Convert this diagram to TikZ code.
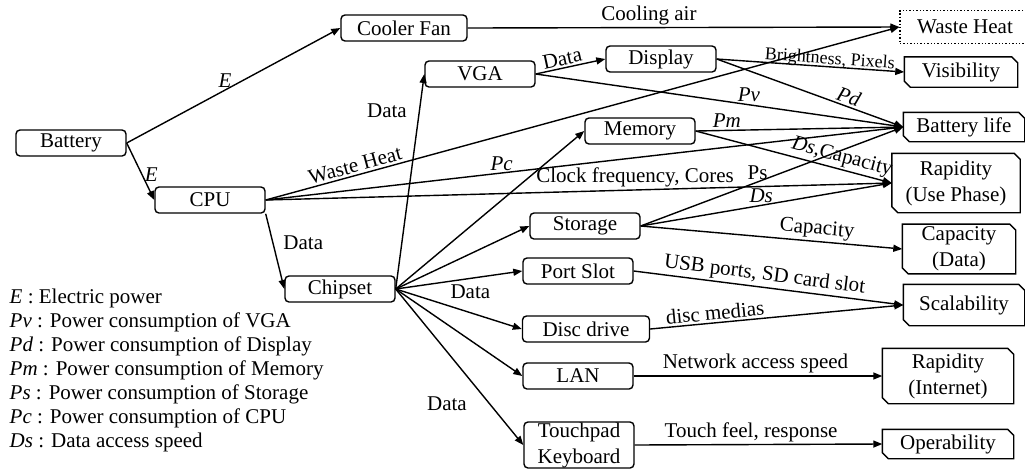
\documentclass[tikz,border=0pt]{standalone}
\usepackage{fontspec}
\setmainfont{Liberation Serif}
\usetikzlibrary{arrows.meta}

\tikzset{
  part/.style={draw, rounded corners=2pt, minimum width=55pt, minimum height=13pt,
    inner sep=1pt, align=center},
  goal/.style={rectangle, inner sep=1pt, align=center},
  lbl/.style={inner sep=1pt},
}

\begin{document}
\begin{tikzpicture}[x=0.5pt, y=-0.5pt, line width=0.7pt,
    font=\fontsize{10.5}{13}\selectfont,
    >={Triangle[length=4.5pt,width=3.5pt]}]
    \useasboundingbox (0,0) rectangle (1025,468);

    % components
    \node[part] (bat) at (71,143) {Battery};
    \node[part, minimum width=63pt] (fan) at (404,28) {Cooler Fan};
    \node[part] (cpu) at (210,200) {CPU};
    \node[part] (vga) at (480,74) {VGA};
    \node[part] (disp) at (661,59) {Display};
    \node[part] (mem) at (640,131) {Memory};
    \node[part] (stor) at (585,226) {Storage};
    \node[part] (chip) at (340,289) {Chipset};
    \node[part] (port) at (578,271) {Port Slot};
    \node[part, minimum width=63.5pt] (disc) at (586,329) {Disc drive};
    \node[part] (lan) at (578,376) {LAN};
    \node[part, minimum height=23pt, inner sep=0pt] (pad) at (579,445) {Touchpad\\Keyboard};

    % functions
    \node[goal, draw, densely dotted, minimum width=65pt, minimum height=16.5pt] (heat) at (965,27) {Waste Heat};
    \node[goal, minimum width=56pt, minimum height=14.5pt] (vis) at (961,72) {Visibility};
    \node[goal, minimum width=60pt, minimum height=14pt] (life) at (964,127) {Battery life};
    \node[goal, minimum width=63.5pt, minimum height=29pt] (rapid) at (956,183) {Rapidity\\(Use Phase)};
    \node[goal, minimum width=56pt, minimum height=24pt] (cap) at (959,249) {Capacity\\(Data)};
    \node[goal, minimum width=60pt, minimum height=20pt] (scal) at (964,305) {Scalability};
    \node[goal, minimum width=65pt, minimum height=27pt] (net) at (948,376) {Rapidity\\(Internet)};
    \node[goal, minimum width=65pt, minimum height=14pt] (oper) at (948,444) {Operability};
    \foreach \n in {vis,life,rapid,cap,scal,net,oper}
      \draw (\n.north west) -- ([xshift=-3pt]\n.north east) -- ([yshift=-3pt]\n.north east)
        -- (\n.south east) -- ([xshift=3pt]\n.south west) -- ([yshift=3pt]\n.south west) -- cycle;

    \node[anchor=west, inner sep=0pt, align=left, font=\fontsize{10.5}{12}\selectfont] (key) at (9,370)
      {\textit{E} : Electric power\\
       \textit{Pv} : Power consumption of VGA\\
       \textit{Pd} : Power consumption of Display\\
       \textit{Pm} : Power consumption of Memory\\
       \textit{Ps} : Power consumption of Storage\\
       \textit{Pc} : Power consumption of CPU\\
       \textit{Ds} : Data access speed};

    % battery and cpu
    \draw[->] (bat.east) -- node[lbl, above, pos=0.46] {\textit{E}} (fan.west);
    \draw[->] (bat.east) -- node[lbl, right, pos=0.56] {\textit{E}} (cpu.west);
    \draw[->] (fan.east) -- node[lbl, above, pos=0.42] {Cooling air} (heat.west);
    \draw[->] (cpu.east) -- node[lbl, above, sloped, pos=0.145] {Waste Heat} (heat.west);
    \draw[->] (cpu.east) -- node[lbl, above, pos=0.37] {\textit{Pc}} (life.west);
    \draw[->] (cpu.east) -- node[lbl, above, pos=0.59] {Clock frequency, Cores} (rapid.west);
    \draw[->] (cpu.south east) -- node[lbl, right=4pt, pos=0.38] {Data} (chip.west);

    % chipset
    \draw[->] (chip.east) -- node[lbl, left=5pt, pos=0.83] {Data} (vga.west);
    \draw[->] (chip.east) -- (mem.west);
    \draw[->] (chip.east) -- (stor.west);
    \draw[->] (chip.east) -- node[lbl, below=2pt, pos=0.59] {Data} (port.west);
    \draw[->] (chip.east) -- (disc.west);
    \draw[->] (chip.east) -- (lan.west);
    \draw[->] (chip.east) -- node[lbl, left=10pt, pos=0.735] {Data} (pad.west);

    % to functions
    \draw[->] (vga.east) -- node[lbl, above, sloped, pos=0.41] {Data} (disp.west);
    \draw[->] (vga.east) -- node[lbl, above, pos=0.58] {\textit{Pv}} (life.west);
    \draw[->] (disp.east) -- node[inner sep=0pt, above=-1pt, sloped, pos=0.6, font=\fontsize{9}{10}\selectfont] {Brightness, Pixels} (vis.west);
    \draw[->] (disp.east) -- node[lbl, above, sloped, pos=0.69] {\textit{Pd}} (life.west);
    \draw[->] (mem.east) -- node[lbl, above, pos=0.15] {\textit{Pm}} (life.west);
    \draw[->] (mem.east) -- node[lbl, above, sloped, pos=0.73] {\textit{Ds},Capacity} (rapid.west);
    \draw[->] (stor.east) -- node[lbl, above, pos=0.445] {Ps} (life.west);
    \draw[->] (stor.east) -- node[lbl, above, pos=0.48] {\textit{Ds}} (rapid.west);
    \draw[->] (stor.east) -- node[lbl, above, sloped, pos=0.67] {Capacity} (cap.west);
    \draw[->] (port.east) -- node[lbl, above, sloped, pos=0.48] {USB ports, SD card slot} (scal.west);
    \draw[->] (disc.east) -- node[lbl, above, sloped, pos=0.26] {disc medias} (scal.west);
    \draw[->] (lan.east) -- node[lbl, above, pos=0.49] {Network access speed} (net.west);
    \draw[->] (pad.east) -- node[lbl, above, pos=0.47] {Touch feel, response} (oper.west);
\end{tikzpicture}
\end{document}
